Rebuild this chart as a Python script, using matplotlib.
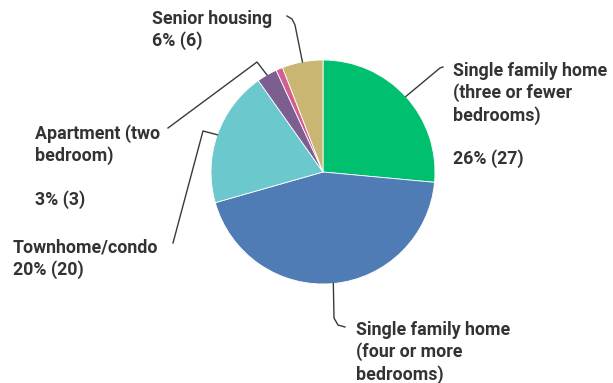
import numpy as np
import matplotlib.pyplot as plt

plt.rcParams['font.family'] = ['Roboto', 'DejaVu Sans']

# --- Data ---
categories = ['Single family home\n(three or fewer\nbedrooms)',
              'Single family home\n(four or more\nbedrooms)',
              'Townhome/condo',
              'Apartment (two\nbedroom)',
              'Other',
              'Senior housing']
counts = [27, 45, 20, 3, 1, 6]
colors = ['#00BF6F', '#507CB6', '#6BC8CD', '#7D5E90', '#D25F90', '#C9B673']

total = sum(counts)
pct = [round(c / total * 100) for c in counts]

W, H = 613, 383
fig = plt.figure(figsize=(W / 100, H / 100), dpi=100)
ax = fig.add_axes([0, 0, 1, 1])

cx, cy, r = 323, H - 172, 112
wedges, _ = ax.pie(counts, colors=colors, startangle=90, counterclock=False,
                   center=(cx, cy), radius=r, frame=True,
                   wedgeprops=dict(linewidth=0.6, edgecolor='white'))
ax.set_xlim(0, W)
ax.set_ylim(0, H)
ax.axis('off')

txt = dict(fontsize=12.8, fontweight='bold', color='#333333',
           va='top', ha='left', linespacing=1.24)
line = dict(color='#3a3a3a', lw=1)


def anchor(i):
    w = wedges[i]
    mid = np.deg2rad((w.theta1 + w.theta2) / 2)
    return cx + r * np.cos(mid), cy + r * np.sin(mid)


# (label text, label x/y in px from top-left, leader elbow points)
labels = {
    0: (f'{categories[0]}\n\n{pct[0]}% ({counts[0]})', (453, 62),
        [(440, 68), (443, 67)]),
    1: (categories[1], (356, 321),
        [(334, 318), (338, 325), (345, 327)]),
    2: (f'{categories[2]}\n{pct[2]}% ({counts[2]})', (13, 239),
        [(203, 131), (173, 243)]),
    3: (f'{categories[3]}\n\n{pct[3]}% ({counts[3]})', (35, 124),
        [(257, 62), (168, 128)]),
    5: (f'{categories[5]}\n{pct[5]}% ({counts[5]})', (152, 10),
        [(295, 25), (292, 19), (287, 16)]),
}

for i, (text, (tx, ty), pts) in labels.items():
    ax0, ay0 = anchor(i)
    xs = [ax0] + [p[0] for p in pts]
    ys = [ay0] + [H - p[1] for p in pts]
    ax.plot(xs, ys, **line)
    ax.text(tx, H - ty, text, **txt)

fig.savefig('out.png', dpi=100)
